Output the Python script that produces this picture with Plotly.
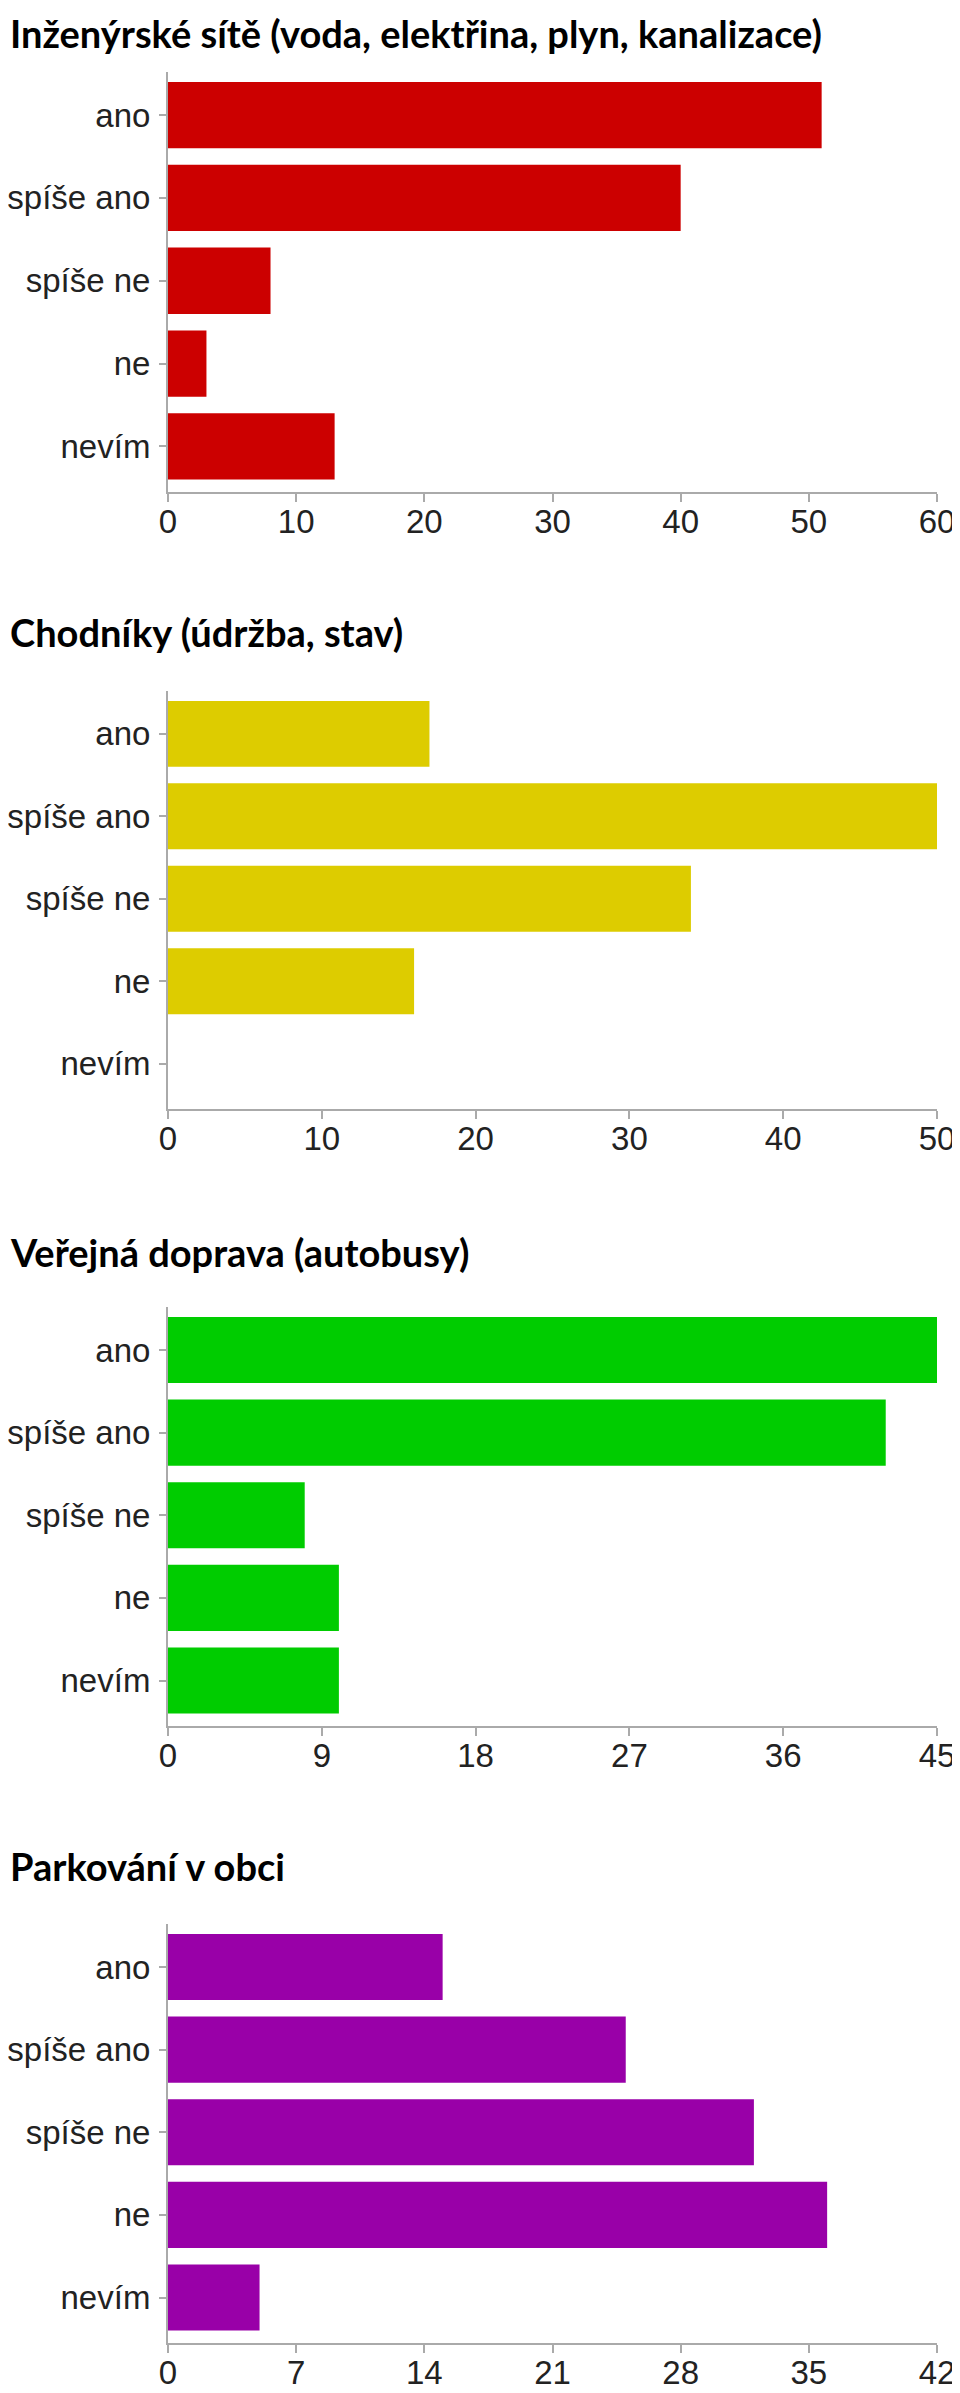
import plotly.graph_objects as go

# The page body has an 8px margin: the figure div starts at page (8, 8)
PAGE_W, PAGE_H = 960, 2393
OFF = 8
W, H = PAGE_W - OFF, PAGE_H - OFF

categories = ["ano", "spíše ano", "spíše ne", "ne", "nevím"]

titles = [
    "Inženýrské sítě (voda, elektřina, plyn, kanalizace)",
    "Chodníky (údržba, stav)",
    "Veřejná doprava (autobusy)",
    "Parkování v obci",
]

site_values = [51, 40, 8, 3, 13]
chodniky_values = [17, 50, 34, 16, 0]
doprava_values = [45, 42, 8, 10, 10]
parkovani_values = [15, 25, 32, 36, 5]

series = [site_values, chodniky_values, doprava_values, parkovani_values]
colors = ["#CC0000", "#DDCC00", "#00CC00", "#9900A8"]
x_max = [60, 50, 45, 42]
x_dtick = [10, 10, 9, 7]

# layout geometry in page pixels (top/bottom of each plot area, title centre)
plot_top = [72, 691, 1307, 1924]
plot_bottom = [492, 1109, 1726, 2343]
title_y = [None, 624, 1244, 1858]
x_left, x_right = 168, 937


def px_x(p):
    return (p - OFF) / W


def px_y(p):
    return 1 - (p - OFF) / H


tick_font = dict(family="Liberation Sans, Arial, sans-serif", size=33, color="#222222")

fig = go.Figure()
annotations = []
for i in range(4):
    n = "" if i == 0 else str(i + 1)
    fig.add_trace(go.Bar(
        x=series[i], y=categories, orientation="h",
        marker=dict(color=colors[i], line=dict(width=0)),
        xaxis="x" + n, yaxis="y" + n, showlegend=False,
    ))
    fig.layout["xaxis" + n] = dict(
        domain=[px_x(x_left), px_x(x_right)],
        anchor="y" + n,
        range=[0, x_max[i]],
        tick0=0, dtick=x_dtick[i],
        showgrid=False, zeroline=False,
        showline=True, linecolor="#aaaaaa", linewidth=2,
        ticks="outside", ticklen=8, tickcolor="#aaaaaa", tickwidth=2,
        tickfont=tick_font,
        ticklabelstandoff=-9,
        ticklabeloverflow="allow",
        automargin=False,
        fixedrange=True,
    )
    fig.layout["yaxis" + n] = dict(
        domain=[px_y(plot_bottom[i]), px_y(plot_top[i])],
        anchor="x" + n,
        type="category",
        categoryorder="array", categoryarray=categories,
        range=[4.55, -0.52],
        showgrid=False, zeroline=False,
        showline=True, linecolor="#aaaaaa", linewidth=2,
        ticks="outside", ticklen=7, tickcolor="#aaaaaa", tickwidth=2,
        tickfont=tick_font,
        ticklabelstandoff=2,
        automargin=False,
        fixedrange=True,
    )
    if title_y[i] is None:
        ann_y, ann_anchor = 1, "top"
    else:
        ann_y, ann_anchor = px_y(title_y[i] + OFF), "middle"
    annotations.append(dict(
        text="<b>" + titles[i] + "</b>",
        xref="paper", yref="paper",
        x=0, y=ann_y,
        xanchor="left", yanchor=ann_anchor,
        showarrow=False,
        font=dict(family="Lato, Open Sans, sans-serif", size=38, color="#000000"),
    ))

fig.update_layout(
    width=W, height=H,
    margin=dict(l=0, r=0, t=0, b=0),
    paper_bgcolor="white", plot_bgcolor="white",
    bargap=0.2,
    annotations=annotations,
)

fig.write_html("out.html")
